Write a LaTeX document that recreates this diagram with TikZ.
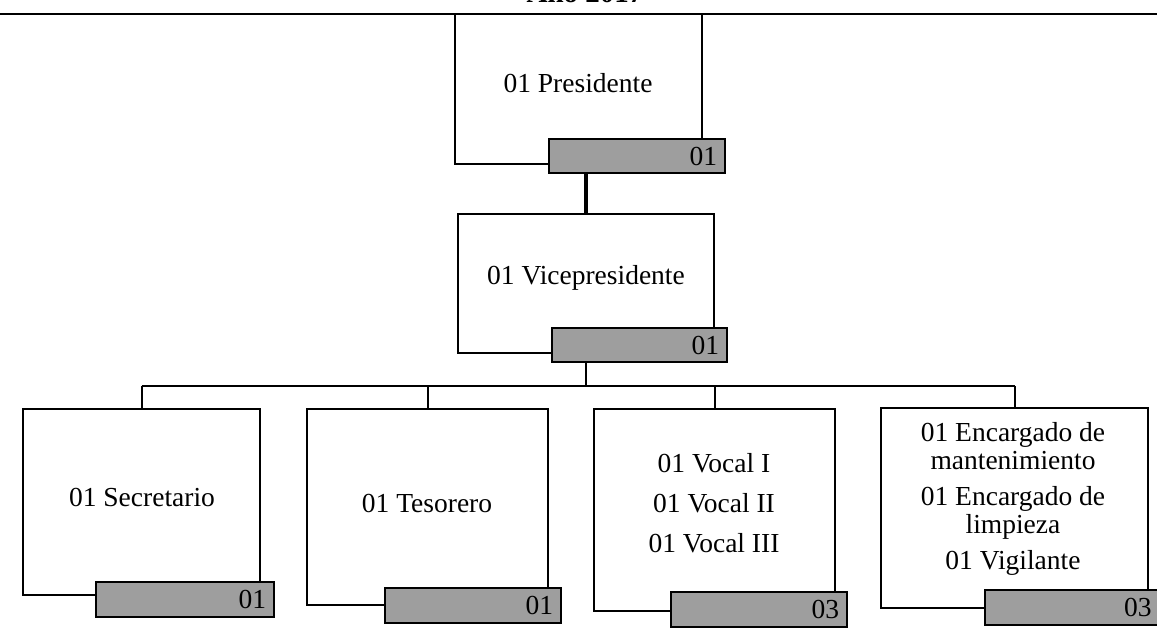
\documentclass[tikz,border=0pt]{standalone}
\usepackage{fontspec}
\setmainfont{Liberation Serif}
\begin{document}
\begin{tikzpicture}[x=1pt,y=-1pt,
  box/.style={draw=black, line width=2.2pt, fill=white, inner sep=0pt},
  tag/.style={draw=black, line width=2.2pt, fill=black!38, inner sep=0pt, minimum height=34pt,
     font=\fontsize{27.5}{28}\selectfont, align=right},
  lbl/.style={font=\fontsize{27.5}{28}\selectfont, align=center, inner sep=0pt},
  conn/.style={line width=2pt},
  thickconn/.style={line width=3.8pt}]
\useasboundingbox (0,0) rectangle (1157,643);
% title and top rule
\node[font=\bfseries\fontsize{29}{30}\selectfont, anchor=base, inner sep=0pt] (title) at (585,2.5) {Año 2017};
\coordinate (rl) at (0,14);
\coordinate (rr) at (1157,14);
\draw[conn] (rl) -- (rr);
% presidente
\node[box, minimum width=247pt, minimum height=150pt] (p) at (578.5,89) {};
\node[lbl] (pt) at (578,83) {01 Presidente};
\node[tag, minimum width=176pt, text width=160pt] (pg) at (637,156) {01};
% vicepresidente
\node[box, minimum width=256pt, minimum height=139pt] (v) at (586,283.5) {};
\node[lbl] (vt) at (586,278) {01 Vicepresidente};
\node[tag, minimum width=175pt, text width=159pt] (vg) at (639.5,345) {01};
% level 3
\node[box, minimum width=237pt, minimum height=186pt] (s) at (141.5,502) {};
\node[lbl] (st) at (142,497) {01 Secretario};
\node[tag, minimum width=178pt, text width=162pt, minimum height=35pt] (sg) at (185,599.5) {01};

\node[box, minimum width=241pt, minimum height=196pt] (t) at (427.5,507) {};
\node[lbl] (tt) at (427,503) {01 Tesorero};
\node[tag, minimum width=176pt, text width=160pt, minimum height=35pt] (tg) at (473,605.5) {01};

\node[box, minimum width=241pt, minimum height=202pt] (c) at (714.5,510) {};
\node[lbl, font=\fontsize{27.5}{40}\selectfont] (ct) at (714,503) {01 Vocal I\\01 Vocal II\\01 Vocal III};
\node[tag, minimum width=176pt, text width=160pt, minimum height=35pt] (cg) at (759,609.5) {03};

\node[box, minimum width=267pt, minimum height=200pt] (e) at (1014.5,508) {};
\node[lbl, font=\fontsize{27.5}{28}\selectfont] (et) at (1013,499) {01 Encargado de\\mantenimiento\\[8pt]01 Encargado de\\limpieza\\[8pt]01 Vigilante};
\node[tag, minimum width=173pt, text width=160pt, minimum height=35pt] (eg) at (1071.5,607.5) {03};
% connectors
\draw[thickconn] (pg.south -| v.north) -- (v.north);
\coordinate (busy) at (0,386);
\draw[conn] (vg.south -| v.north) -- (v.north |- busy);
\draw[conn] (s.north |- busy) -- (e.north |- busy);
\draw[conn] (s.north |- busy) -- (s.north);
\draw[conn] (t.north |- busy) -- (t.north);
\draw[conn] (c.north |- busy) -- (c.north);
\draw[conn] (e.north |- busy) -- (e.north);
\end{tikzpicture}
\end{document}
